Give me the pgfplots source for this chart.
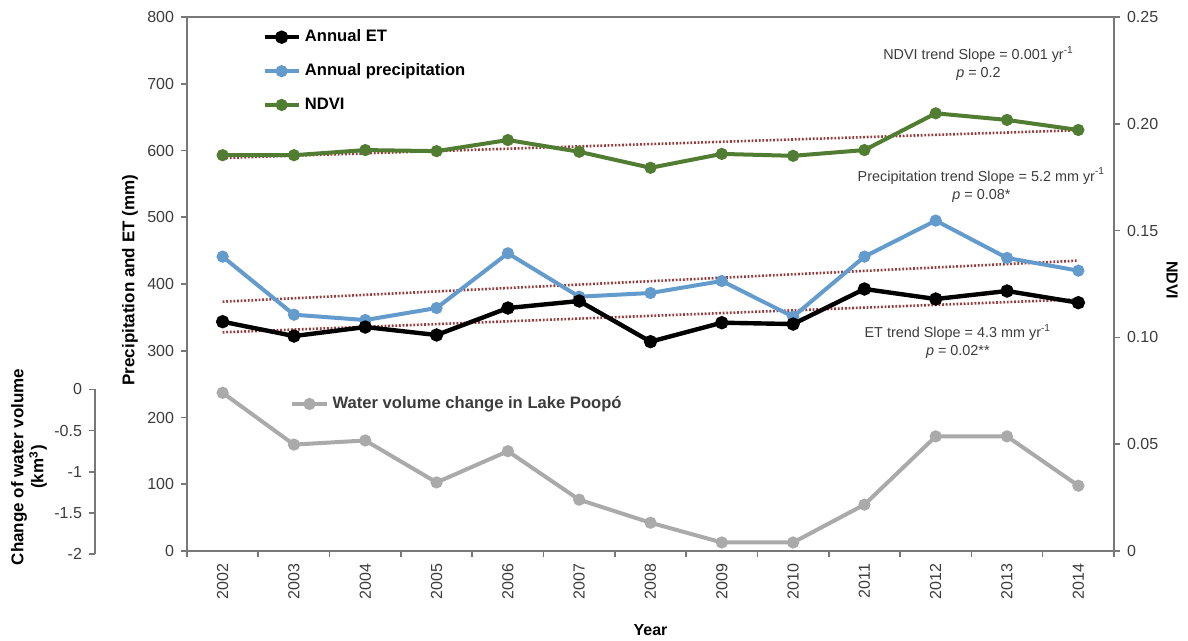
\documentclass[border=0pt]{standalone}
\usepackage{pgfplots}
\pgfplotsset{compat=1.18}
\usepackage{fontspec}
\setmainfont{Liberation Sans}
\definecolor{prc}{RGB}{100,155,205}
\definecolor{ndc}{RGB}{80,125,50}
\definecolor{wvc}{RGB}{170,170,170}
\definecolor{trc}{RGB}{150,60,60}
\definecolor{axc}{RGB}{120,120,120}
\definecolor{txc}{RGB}{60,60,60}
\pgfplotsset{
  base/.style={scale only axis, width=463.5pt, height=267pt,
    xmin=2001.5, xmax=2014.5, at={(93.5pt,45pt)}, anchor=south west,
    /pgf/number format/assume math mode=true,
    tick label style={font=\fontsize{8}{9}\selectfont, color=txc},
    axis line style={axc, line width=1pt},
    tick style={axc, line width=0.8pt},
    major tick length=3pt, tick align=outside,
    label style={font=\fontsize{8.5}{10}\selectfont\bfseries},
  },
}
\begin{document}
\begin{tikzpicture}[x=1pt,y=1pt]
\useasboundingbox (0,0) rectangle (594,320.5);
% third axis: water volume change
\begin{axis}[base, at={(47.5pt,43.5pt)}, width=509.5pt, height=82.25pt,
  xmin=2000.21, xmax=2014.5, ymin=-2, ymax=0,
  axis y line*=left, axis x line=none,
  ytick={-2,-1.5,-1,-0.5,0}, yticklabels={-2,-1.5,-1,-0.5,0},
  ylabel={Change of water volume\\(km\textsuperscript{3})},
  ylabel style={at={(axis description cs:-0.0648,0.529)}, anchor=center, align=center},
  legend style={at={(0.1855,1.009)}, anchor=north west, draw=none, fill=none,
    font=\fontsize{8.3}{10}\selectfont\bfseries\color{txc}},
  legend cell align=left,
]
\addplot[wvc, line width=2pt, mark=*, mark size=2pt, mark options={solid, fill=wvc}]
coordinates {(2002,-0.04) (2003,-0.67) (2004,-0.62) (2005,-1.13) (2006,-0.75)
 (2007,-1.34) (2008,-1.62) (2009,-1.86) (2010,-1.86) (2011,-1.40) (2012,-0.57)
 (2013,-0.57) (2014,-1.17)};
\addlegendentry{Water volume change in Lake Poopó}
\end{axis}
% main axis
\begin{axis}[base,
  ymin=0, ymax=800, ytick={0,100,...,800},
  tick pos=left,
  xtick={2002,...,2014},
  minor xtick={2001.5,2002.5,...,2014.5},
  major x tick style={draw=none},
  minor tick length=3pt,
  minor x tick style={draw=axc, line width=0.8pt},
  xticklabel style={rotate=90, anchor=east, /pgf/number format/1000 sep={}},
  xlabel={Year},
  xlabel style={at={(axis description cs:0.5,-0.148)}, anchor=center, font=\fontsize{8}{9}\selectfont\bfseries},
  ylabel={Precipitation and ET (mm)},
  ylabel style={at={(axis description cs:-0.0615,0.507)}, anchor=center},
  legend style={at={(0.0744,0.992)}, anchor=north west, draw=none, fill=none,
    font=\fontsize{8.3}{10}\selectfont\bfseries, row sep=5.5pt},
  legend cell align=left,
]
\addplot[trc, line width=1.3pt, dash pattern=on 0.9pt off 0.9pt, forget plot]
  coordinates {(2002,373.5) (2014,435)};
\addplot[trc, line width=1.3pt, dash pattern=on 0.9pt off 0.9pt, forget plot]
  coordinates {(2002,327.6) (2014,377)};
\addplot[prc, line width=2pt, mark=*, mark size=2pt, mark options={solid, fill=prc}, forget plot]
coordinates {(2002,441) (2003,354) (2004,346) (2005,364) (2006,446) (2007,381)
 (2008,386.5) (2009,404.5) (2010,351) (2011,441) (2012,495) (2013,439) (2014,420)};
\addplot[black, line width=2.2pt, mark=*, mark size=2.2pt, mark options={solid, fill=black}]
coordinates {(2002,343.5) (2003,322) (2004,335.5) (2005,323.6) (2006,364) (2007,374.5)
 (2008,313.6) (2009,342) (2010,340) (2011,392.5) (2012,377.5) (2013,389.5) (2014,372)};
\addlegendentry{Annual ET}
\addlegendimage{prc, line width=2pt, mark=*, mark size=2pt, mark options={solid, fill=prc}}
\addlegendentry{Annual precipitation}
\addlegendimage{ndc, line width=2pt, mark=*, mark size=2pt, mark options={solid, fill=ndc}}
\addlegendentry{NDVI}
\node[font=\fontsize{7.2}{9}\selectfont, color=txc, align=center] at (axis cs:2012.6,729.6)
  {NDVI trend Slope = 0.001 yr\textsuperscript{-1}\\\textit{p} = 0.2};
\node[font=\fontsize{7.2}{9}\selectfont, color=txc, align=center] at (axis cs:2012.64,548.3)
  {Precipitation trend Slope = 5.2 mm yr\textsuperscript{-1}\\\textit{p} = 0.08*};
\node[font=\fontsize{7.2}{9}\selectfont, color=txc, align=center] at (axis cs:2012.31,313.9)
  {ET trend Slope = 4.3 mm yr\textsuperscript{-1}\\\textit{p} = 0.02**};
\end{axis}
% NDVI axis
\begin{axis}[base,
  ymin=0, ymax=0.25, axis y line*=right, axis x line=none,
  ytick={0,0.05,0.1,0.15,0.2,0.25}, yticklabels={0,0.05,0.10,0.15,0.20,0.25},
  ylabel={NDVI},
  ylabel style={at={(axis description cs:1.0626,0.507)}, anchor=center, rotate=180, font=\fontsize{8}{9}\selectfont\bfseries},
]
\addplot[trc, line width=1.3pt, dash pattern=on 0.9pt off 0.9pt]
  coordinates {(2002,0.184) (2014,0.197)};
\addplot[ndc, line width=2pt, mark=*, mark size=2pt, mark options={solid, fill=ndc}]
coordinates {(2002,0.1853) (2003,0.1853) (2004,0.1877) (2005,0.1872) (2006,0.1924)
 (2007,0.1869) (2008,0.1794) (2009,0.1859) (2010,0.1850) (2011,0.1877) (2012,0.2049)
 (2013,0.2018) (2014,0.1971)};
\end{axis}
\end{tikzpicture}
\end{document}
